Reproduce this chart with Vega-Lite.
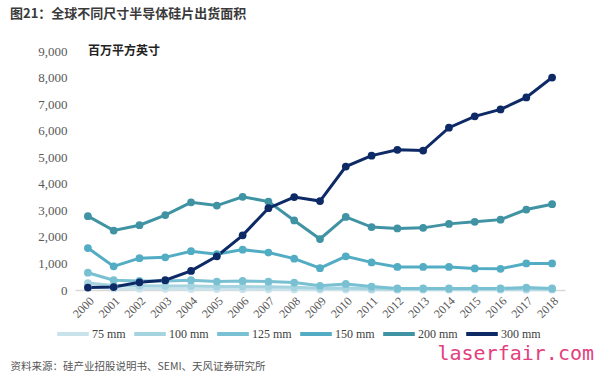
{
  "$schema": "https://vega.github.io/schema/vega-lite/v6.json",
  "width": 490,
  "height": 239,
  "autosize": {"type": "none"},
  "padding": {"left": 75, "top": 51, "right": 35, "bottom": 95},
  "background": "white",
  "config": {"view": {"stroke": null}, "font": "Liberation Serif"},
  "title": {
    "text": "图21：全球不同尺寸半导体硅片出货面积",
    "anchor": "start",
    "frame": "group",
    "dx": -65,
    "offset": 24,
    "font": "Noto Sans CJK SC",
    "fontSize": 13,
    "fontWeight": "bold",
    "color": "#3a3a3a"
  },
  "data": {
    "values": [
      {"year": "2000", "size": "75 mm", "value": 120},
      {"year": "2001", "size": "75 mm", "value": 60},
      {"year": "2002", "size": "75 mm", "value": 50},
      {"year": "2003", "size": "75 mm", "value": 45},
      {"year": "2004", "size": "75 mm", "value": 40},
      {"year": "2005", "size": "75 mm", "value": 35},
      {"year": "2006", "size": "75 mm", "value": 30},
      {"year": "2007", "size": "75 mm", "value": 25},
      {"year": "2008", "size": "75 mm", "value": 20},
      {"year": "2009", "size": "75 mm", "value": 15},
      {"year": "2010", "size": "75 mm", "value": 15},
      {"year": "2011", "size": "75 mm", "value": 10},
      {"year": "2012", "size": "75 mm", "value": 10},
      {"year": "2013", "size": "75 mm", "value": 10},
      {"year": "2014", "size": "75 mm", "value": 10},
      {"year": "2015", "size": "75 mm", "value": 10},
      {"year": "2016", "size": "75 mm", "value": 10},
      {"year": "2017", "size": "75 mm", "value": 10},
      {"year": "2018", "size": "75 mm", "value": 10},
      {"year": "2000", "size": "100 mm", "value": 260},
      {"year": "2001", "size": "100 mm", "value": 170},
      {"year": "2002", "size": "100 mm", "value": 160},
      {"year": "2003", "size": "100 mm", "value": 150},
      {"year": "2004", "size": "100 mm", "value": 150},
      {"year": "2005", "size": "100 mm", "value": 130},
      {"year": "2006", "size": "100 mm", "value": 130},
      {"year": "2007", "size": "100 mm", "value": 120},
      {"year": "2008", "size": "100 mm", "value": 100},
      {"year": "2009", "size": "100 mm", "value": 70},
      {"year": "2010", "size": "100 mm", "value": 80},
      {"year": "2011", "size": "100 mm", "value": 50},
      {"year": "2012", "size": "100 mm", "value": 40},
      {"year": "2013", "size": "100 mm", "value": 40},
      {"year": "2014", "size": "100 mm", "value": 40},
      {"year": "2015", "size": "100 mm", "value": 40},
      {"year": "2016", "size": "100 mm", "value": 40},
      {"year": "2017", "size": "100 mm", "value": 40},
      {"year": "2018", "size": "100 mm", "value": 40},
      {"year": "2000", "size": "125 mm", "value": 650},
      {"year": "2001", "size": "125 mm", "value": 370},
      {"year": "2002", "size": "125 mm", "value": 340},
      {"year": "2003", "size": "125 mm", "value": 340},
      {"year": "2004", "size": "125 mm", "value": 370},
      {"year": "2005", "size": "125 mm", "value": 320},
      {"year": "2006", "size": "125 mm", "value": 340},
      {"year": "2007", "size": "125 mm", "value": 320},
      {"year": "2008", "size": "125 mm", "value": 280},
      {"year": "2009", "size": "125 mm", "value": 160},
      {"year": "2010", "size": "125 mm", "value": 230},
      {"year": "2011", "size": "125 mm", "value": 130},
      {"year": "2012", "size": "125 mm", "value": 60},
      {"year": "2013", "size": "125 mm", "value": 60},
      {"year": "2014", "size": "125 mm", "value": 60},
      {"year": "2015", "size": "125 mm", "value": 60},
      {"year": "2016", "size": "125 mm", "value": 60},
      {"year": "2017", "size": "125 mm", "value": 90},
      {"year": "2018", "size": "125 mm", "value": 60},
      {"year": "2000", "size": "150 mm", "value": 1580},
      {"year": "2001", "size": "150 mm", "value": 890},
      {"year": "2002", "size": "150 mm", "value": 1200},
      {"year": "2003", "size": "150 mm", "value": 1230},
      {"year": "2004", "size": "150 mm", "value": 1460},
      {"year": "2005", "size": "150 mm", "value": 1350},
      {"year": "2006", "size": "150 mm", "value": 1520},
      {"year": "2007", "size": "150 mm", "value": 1410},
      {"year": "2008", "size": "150 mm", "value": 1180},
      {"year": "2009", "size": "150 mm", "value": 820},
      {"year": "2010", "size": "150 mm", "value": 1270},
      {"year": "2011", "size": "150 mm", "value": 1040},
      {"year": "2012", "size": "150 mm", "value": 870},
      {"year": "2013", "size": "150 mm", "value": 870},
      {"year": "2014", "size": "150 mm", "value": 870},
      {"year": "2015", "size": "150 mm", "value": 810},
      {"year": "2016", "size": "150 mm", "value": 800},
      {"year": "2017", "size": "150 mm", "value": 1000},
      {"year": "2018", "size": "150 mm", "value": 1000},
      {"year": "2000", "size": "200 mm", "value": 2780},
      {"year": "2001", "size": "200 mm", "value": 2240},
      {"year": "2002", "size": "200 mm", "value": 2440},
      {"year": "2003", "size": "200 mm", "value": 2820},
      {"year": "2004", "size": "200 mm", "value": 3300},
      {"year": "2005", "size": "200 mm", "value": 3180},
      {"year": "2006", "size": "200 mm", "value": 3510},
      {"year": "2007", "size": "200 mm", "value": 3330},
      {"year": "2008", "size": "200 mm", "value": 2620},
      {"year": "2009", "size": "200 mm", "value": 1920},
      {"year": "2010", "size": "200 mm", "value": 2750},
      {"year": "2011", "size": "200 mm", "value": 2370},
      {"year": "2012", "size": "200 mm", "value": 2320},
      {"year": "2013", "size": "200 mm", "value": 2340},
      {"year": "2014", "size": "200 mm", "value": 2490},
      {"year": "2015", "size": "200 mm", "value": 2570},
      {"year": "2016", "size": "200 mm", "value": 2650},
      {"year": "2017", "size": "200 mm", "value": 3030},
      {"year": "2018", "size": "200 mm", "value": 3230},
      {"year": "2000", "size": "300 mm", "value": 90},
      {"year": "2001", "size": "300 mm", "value": 110},
      {"year": "2002", "size": "300 mm", "value": 290},
      {"year": "2003", "size": "300 mm", "value": 370},
      {"year": "2004", "size": "300 mm", "value": 720},
      {"year": "2005", "size": "300 mm", "value": 1270},
      {"year": "2006", "size": "300 mm", "value": 2060},
      {"year": "2007", "size": "300 mm", "value": 3080},
      {"year": "2008", "size": "300 mm", "value": 3500},
      {"year": "2009", "size": "300 mm", "value": 3350},
      {"year": "2010", "size": "300 mm", "value": 4650},
      {"year": "2011", "size": "300 mm", "value": 5060},
      {"year": "2012", "size": "300 mm", "value": 5280},
      {"year": "2013", "size": "300 mm", "value": 5250},
      {"year": "2014", "size": "300 mm", "value": 6110},
      {"year": "2015", "size": "300 mm", "value": 6540},
      {"year": "2016", "size": "300 mm", "value": 6800},
      {"year": "2017", "size": "300 mm", "value": 7250},
      {"year": "2018", "size": "300 mm", "value": 8000}
    ]
  },
  "encoding": {
    "x": {
      "field": "year",
      "type": "ordinal",
      "scale": {"padding": 0.5},
      "axis": {
        "labelAngle": -45,
        "labelFont": "Liberation Serif",
        "labelFontSize": 12,
        "labelColor": "#595959",
        "ticks": false,
        "domain": true,
        "domainColor": "#d9d9d9",
        "domainWidth": 1.5,
        "labelPadding": 5,
        "title": "资料来源：硅产业招股说明书、SEMI、天风证券研究所",
        "titleX": -65,
        "titleY": 76,
        "titleAlign": "left",
        "titleBaseline": "middle",
        "titleFont": "Noto Sans CJK SC",
        "titleFontSize": 10.5,
        "titleFontWeight": "normal",
        "titleColor": "#555555"
      }
    },
    "y": {
      "field": "value",
      "type": "quantitative",
      "scale": {"domain": [0, 9000], "nice": false},
      "axis": {
        "values": [0, 1000, 2000, 3000, 4000, 5000, 6000, 7000, 8000, 9000],
        "format": ",.0f",
        "grid": false,
        "domain": false,
        "ticks": false,
        "labelFont": "Liberation Serif",
        "labelFontSize": 13,
        "labelColor": "#595959",
        "labelPadding": 8,
        "title": "laserfair.com",
        "titleAngle": 0,
        "titleX": 362,
        "titleY": 302,
        "titleAlign": "left",
        "titleBaseline": "middle",
        "titleFont": "DejaVu Sans Mono",
        "titleFontSize": 20,
        "titleFontWeight": "normal",
        "titleColor": "#e2407c"
      }
    },
    "color": {
      "field": "size",
      "type": "nominal",
      "sort": ["75 mm", "100 mm", "125 mm", "150 mm", "200 mm", "300 mm"],
      "scale": {
        "domain": ["75 mm", "100 mm", "125 mm", "150 mm", "200 mm", "300 mm"],
        "range": ["#c9e3ec", "#a6d3e0", "#79c0d2", "#52adc4", "#3f93a3", "#0e2a66"]
      },
      "legend": {
        "orient": "none",
        "direction": "horizontal",
        "legendX": -20,
        "legendY": 265,
        "title": null,
        "symbolType": "stroke",
        "symbolSize": 1000,
        "symbolStrokeWidth": 4,
        "labelFont": "Liberation Serif",
        "labelFontSize": 12,
        "labelColor": "#404040",
        "labelOffset": 1,
        "columnPadding": 0
      }
    }
  },
  "layer": [
    {"mark": {"type": "line", "strokeWidth": 3}},
    {"mark": {"type": "circle", "size": 60, "opacity": 1}},
    {
      "data": {"values": [{"year": "2000", "value": 9000, "t": "百万平方英寸"}]},
      "mark": {"type": "text", "align": "left", "dx": 0, "font": "Noto Sans CJK SC", "fontSize": 12, "fontWeight": "bold", "color": "#222222"},
      "encoding": {
        "x": {"field": "year", "type": "ordinal"},
        "y": {"field": "value", "type": "quantitative"},
        "text": {"field": "t"},
        "color": {"value": "#222222"}
      }
    }
  ]
}
